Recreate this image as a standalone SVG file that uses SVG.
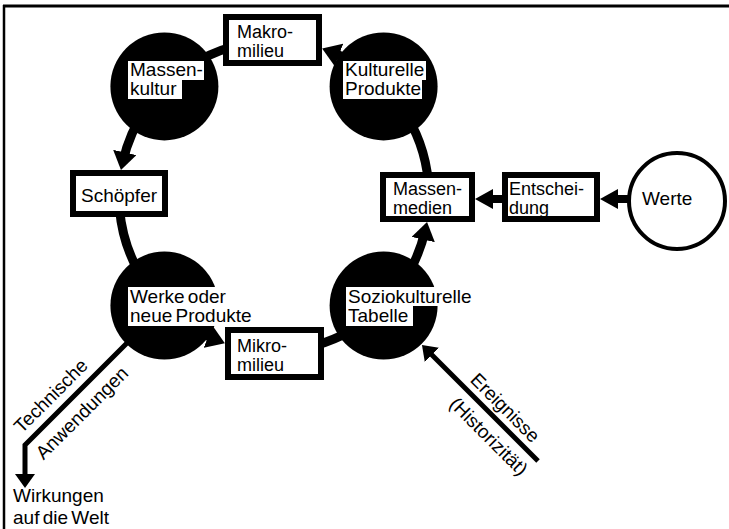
<svg xmlns="http://www.w3.org/2000/svg" width="729" height="529" viewBox="0 0 729 529">
<defs>
<style>
text{font-family:"Liberation Sans",Arial,Helvetica,sans-serif;font-size:19px;fill:#000}
.bt{font-size:18px}
.box{fill:#fff;stroke:#000;stroke-width:6}
.dot{fill:#000}
.lbl{fill:#fff}
.ring{fill:none;stroke:#000;stroke-width:9}
.mid{fill:none;stroke:#000;stroke-width:8}
.thin{fill:none;stroke:#000;stroke-width:5}
</style>
<marker id="big" markerUnits="userSpaceOnUse" markerWidth="18" markerHeight="24" refX="10" refY="12" orient="auto"><path d="M0,0 L18,12 L0,24 z" fill="#000"/></marker>
<marker id="med" markerUnits="userSpaceOnUse" markerWidth="18" markerHeight="20" refX="10" refY="10" orient="auto"><path d="M0,0 L18,10 L0,20 z" fill="#000"/></marker>
<marker id="sm" markerUnits="userSpaceOnUse" markerWidth="14" markerHeight="20" refX="9" refY="10" orient="auto"><path d="M0,0 L14,10 L0,20 z" fill="#000"/></marker>
</defs>
<rect width="729" height="529" fill="#fff"/>
<g id="frame">
<line x1="3" y1="6" x2="729" y2="6" stroke="#000" stroke-width="3"/>
<line x1="4" y1="5" x2="4" y2="529" stroke="#000" stroke-width="2.5"/>
</g>
<g id="connectors">
<path class="ring" d="M362.9,69.0 A155,155 0 0 0 329.6,51.3" marker-end="url(#big)"/>
<path class="ring" d="M233.9,46.3 A155,155 0 0 0 185.1,69.0"/>
<path class="ring" d="M147.0,107.1 A155,155 0 0 0 122.7,162.2" marker-end="url(#big)"/>
<path class="ring" d="M119.6,209.5 A155,155 0 0 0 147.0,284.9"/>
<path class="ring" d="M185.1,323.0 A155,155 0 0 0 217.4,340.3" marker-end="url(#big)"/>
<path class="ring" d="M300.9,348.6 A155,155 0 0 0 362.9,323.0"/>
<path class="ring" d="M401.0,284.9 A155,155 0 0 0 425.3,229.8" marker-end="url(#big)"/>
<path class="ring" d="M428.4,182.5 A155,155 0 0 0 401.0,107.1"/>
<path class="mid" d="M630,199 L608,199" marker-end="url(#med)"/>
<path class="mid" d="M505,199 L483,199" marker-end="url(#med)"/>
<path class="thin" d="M538,461 L425.5,348.5" marker-end="url(#sm)"/>
<path class="thin" d="M140,330 L25,445 L25,483" marker-end="url(#sm)"/>
</g>
<g id="makromilieu">
<rect class="box" x="226" y="17" width="93" height="46"/>
<text class="bt" x="237" y="38">Makro-</text>
<text class="bt" x="237" y="57">milieu</text>
</g>
<g id="massenkultur">
<circle class="dot" cx="164.4" cy="86.4" r="54"/>
<rect class="lbl" x="128" y="61" width="76" height="19"/>
<rect class="lbl" x="128" y="80" width="54" height="19"/>
<text x="130" y="76">Massen-</text>
<text x="130" y="95">kultur</text>
</g>
<g id="kulturelle-produkte">
<circle class="dot" cx="383.6" cy="86.4" r="54"/>
<rect class="lbl" x="343" y="61" width="83" height="19"/>
<rect class="lbl" x="343" y="80" width="79" height="19"/>
<text x="345" y="76">Kulturelle</text>
<text x="345" y="95">Produkte</text>
</g>
<g id="schoepfer">
<rect class="box" x="73" y="173" width="92" height="41"/>
<text x="81" y="202">Schöpfer</text>
</g>
<g id="massenmedien">
<rect class="box" x="383" y="175" width="89" height="44"/>
<text class="bt" x="393" y="195">Massen-</text>
<text class="bt" x="393" y="214">medien</text>
</g>
<g id="entscheidung">
<rect class="box" x="505" y="175" width="92" height="44"/>
<text class="bt" x="509" y="195">Entschei-</text>
<text class="bt" x="509" y="214">dung</text>
</g>
<g id="werte">
<circle cx="677" cy="201" r="48" fill="#fff" stroke="#000" stroke-width="4"/>
<text x="642" y="205">Werte</text>
</g>
<g id="werke">
<circle class="dot" cx="164.4" cy="305.6" r="54"/>
<rect class="lbl" x="128" y="287" width="99" height="19"/>
<rect class="lbl" x="128" y="306" width="127" height="20"/>
<text x="130" y="303" word-spacing="-2">Werke oder</text>
<text x="130" y="322" word-spacing="-2">neue Produkte</text>
</g>
<g id="soziokulturelle-tabelle">
<circle class="dot" cx="383.6" cy="305.6" r="54"/>
<rect class="lbl" x="346" y="287" width="127" height="19"/>
<rect class="lbl" x="346" y="306" width="67" height="20"/>
<text x="348" y="303">Soziokulturelle</text>
<text x="348" y="322">Tabelle</text>
</g>
<g id="mikromilieu">
<rect class="box" x="228" y="330" width="93" height="47"/>
<text class="bt" x="237" y="352">Mikro-</text>
<text class="bt" x="237" y="371">milieu</text>
</g>
<g id="labels">
<text transform="translate(62.5,407.5) rotate(-45)" text-anchor="middle" y="-10">Technische</text>
<text transform="translate(69.6,400.6) rotate(-45)" text-anchor="middle" y="24">Anwendungen</text>
<text transform="translate(495,418) rotate(45)" text-anchor="middle" y="-8">Ereignisse</text>
<text transform="translate(501,424) rotate(45)" text-anchor="middle" y="24">(Historizität)</text>
<text x="13" y="502">Wirkungen</text>
<text x="13" y="524" word-spacing="-2">auf die Welt</text>
</g>
</svg>
